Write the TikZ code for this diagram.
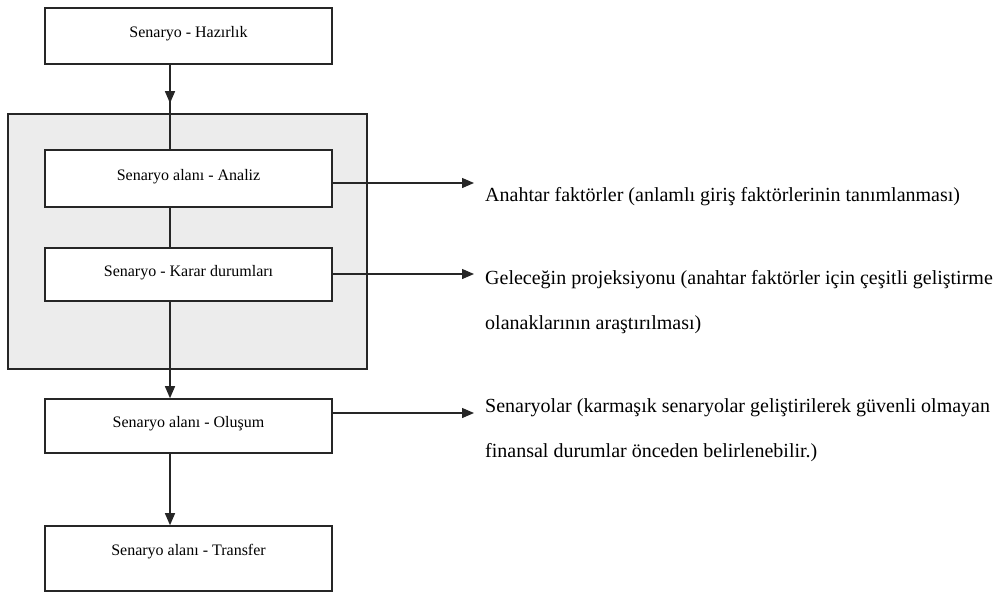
\documentclass[tikz,border=0pt]{standalone}
\usepackage{fontspec}
\setmainfont{Liberation Serif}
\usetikzlibrary{arrows.meta}
\tikzset{
	>={Triangle[length=12pt,width=10pt]}, % filled triangle arrow heads
	asama/.style={draw=black!85, line width=1.6pt, fill=white, minimum width=287pt, inner sep=0pt, text height=11pt, text depth=8pt, font=\fontsize{16}{19}\selectfont}, % one box for each stage
	grup/.style={draw=black!85, line width=1.6pt, fill=gray!15, minimum width=359pt, minimum height=255pt}, % grey frame round the two middle stages
	aciklama/.style={anchor=base west, inner sep=0pt, align=left, font=\fontsize{20}{45}\selectfont}, % the texts on the right (base = last line)
	hat/.style={draw=black!85, line width=1.3pt}, % plain connector
	ok/.style={hat, ->}, % connector with arrow
}

\begin{document}
\begin{tikzpicture}[x=1pt, y=-1pt]
	\useasboundingbox (0,0) rectangle (996,592);
	\node[grup] (alan) at (187.5,241.5) {};
	\node[asama, minimum height=56pt] (hazirlik) at (188.5,36) {Senaryo - Hazırlık};
	\node[asama, minimum height=57pt] (analiz) at (188.5,178.5) {Senaryo alanı - Analiz};
	\node[asama, minimum height=53pt] (karar) at (188.5,274.5) {Senaryo - Karar durumları};
	\node[asama, minimum height=54pt] (olusum) at (188.5,426) {Senaryo alanı - Oluşum};
	\node[asama, minimum height=65pt, text depth=18pt] (transfer) at (188.5,558.5) {Senaryo alanı - Transfer};
	\coordinate (eksen) at (170,0);
	\coordinate (u1) at (474,183);
	\coordinate (u2) at (474,274);
	\coordinate (u3) at (474,413);
	\node[aciklama] (anahtar) at (485,201) {Anahtar faktörler (anlamlı giriş faktörlerinin tanımlanması)};
	\node[aciklama] (projeksiyon) at (485,329) {Geleceğin projeksiyonu (anahtar faktörler için çeşitli geliştirme\\olanaklarının araştırılması)};
	\node[aciklama] (senaryolar) at (485,457) {Senaryolar (karmaşık senaryolar geliştirilerek güvenli olmayan\\finansal durumlar önceden belirlenebilir.)};
	\draw[hat] (hazirlik.south -| eksen) -- (analiz.north -| eksen);
	\draw[ok, shorten >=10pt] (hazirlik.south -| eksen) -- (alan.north -| eksen);
	\draw[hat] (analiz.south -| eksen) -- (karar.north -| eksen);
	\draw[ok] (karar.south -| eksen) -- (olusum.north -| eksen);
	\draw[ok] (olusum.south -| eksen) -- (transfer.north -| eksen);
	\draw[ok] (analiz.east |- u1) -- (u1);
	\draw[ok] (karar.east |- u2) -- (u2);
	\draw[ok] (olusum.east |- u3) -- (u3);
\end{tikzpicture}
\end{document}
